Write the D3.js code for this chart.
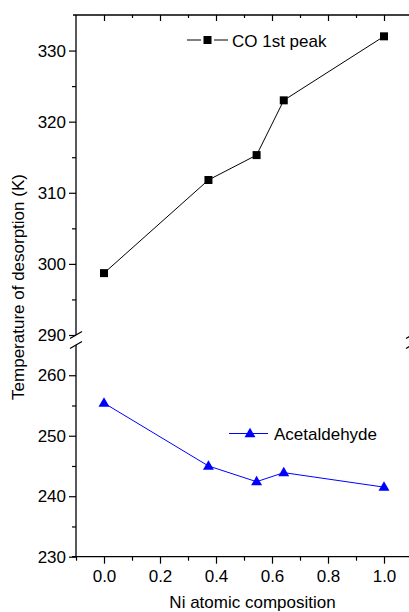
<!DOCTYPE html>
<html><head><meta charset="utf-8">
<script src="https://cdn.jsdelivr.net/npm/d3@7"></script>
<style>
body{margin:0;background:#fff;}
svg{display:block;font-family:"Liberation Sans",Arial,sans-serif;}
</style></head>
<body><svg id="c" width="409" height="612"></svg>
<script>
// data
const niComposition = [0.0, 0.373, 0.545, 0.642, 1.0];
const coPeak = [298.7, 311.8, 315.3, 323.0, 332.0];
const acetaldehyde = [255.4, 245.0, 242.4, 243.9, 241.5];
const xTicks = [0.0, 0.2, 0.4, 0.6, 0.8, 1.0];
const xMinorTicks = [-0.1, 0.1, 0.3, 0.5, 0.7, 0.9, 1.1];
const upperTicks = [290, 300, 310, 320, 330];
const upperMinor = [295, 305, 315, 325];
const lowerTicks = [230, 240, 250, 260];
const lowerMinor = [235, 245, 255];
const seriesNames = ["CO 1st peak", "Acetaldehyde"];

const svg = d3.select("#c");
const L = 76, R = 412, T = 15, B = 556.7;
const upperBottom = 335, lowerTop = 345;

const x = d3.scaleLinear().domain([-0.1, 1.1]).range([L, R]);
const yU = d3.scaleLinear().domain([290, 335]).range([upperBottom, T]);
const yL = d3.scaleLinear().domain([230, 265]).range([B, lowerTop]);

const fs = 17;
function style(g, lbl) {
  g.select(".domain").remove();
  g.selectAll(".tick line").attr("stroke", "#000").attr("stroke-width", 1.2);
  g.selectAll(".tick text").attr("font-size", fs).attr("fill", "#000")
   .attr("font-family", '"Liberation Sans",Arial,sans-serif');
  if (!lbl) g.selectAll(".tick text").remove();
}

// bottom axis
svg.append("g").attr("transform", `translate(0,${B})`)
  .call(d3.axisBottom(x).tickValues(xTicks).tickSize(7).tickPadding(6).tickFormat(d3.format(".1f")))
  .call(g => style(g, true));
svg.append("g").attr("transform", `translate(0,${B})`)
  .call(d3.axisBottom(x).tickValues(xMinorTicks).tickSize(4))
  .call(g => style(g, false));
// top axis (inward ticks)
svg.append("g").attr("transform", `translate(0,${T})`)
  .call(d3.axisBottom(x).tickValues(xTicks).tickSize(6))
  .call(g => style(g, false));
svg.append("g").attr("transform", `translate(0,${T})`)
  .call(d3.axisBottom(x).tickValues(xMinorTicks.slice(1, -1)).tickSize(3))
  .call(g => style(g, false));

// left axes
svg.append("g").attr("transform", `translate(${L},0)`)
  .call(d3.axisLeft(yU).tickValues(upperTicks).tickSize(7).tickPadding(3))
  .call(g => style(g, true));
svg.append("g").attr("transform", `translate(${L},0)`)
  .call(d3.axisLeft(yU).tickValues(upperMinor).tickSize(4))
  .call(g => style(g, false));
svg.append("g").attr("transform", `translate(${L},0)`)
  .call(d3.axisLeft(yL).tickValues(lowerTicks).tickSize(7).tickPadding(3))
  .call(g => style(g, true));
svg.append("g").attr("transform", `translate(${L},0)`)
  .call(d3.axisLeft(yL).tickValues(lowerMinor).tickSize(4))
  .call(g => style(g, false));

// axis lines
const ax = svg.append("g").attr("stroke", "#000").attr("stroke-width", 1.3).attr("fill", "none");
ax.append("line").attr("x1", L - 3).attr("x2", R).attr("y1", T).attr("y2", T);
ax.append("line").attr("x1", L - 4).attr("x2", R).attr("y1", B).attr("y2", B);
[L, R].forEach(xx => {
  ax.append("line").attr("x1", xx).attr("x2", xx).attr("y1", T).attr("y2", upperBottom);
  ax.append("line").attr("x1", xx).attr("x2", xx).attr("y1", lowerTop).attr("y2", B);
  [upperBottom, lowerTop].forEach(yy => {
    ax.append("line").attr("x1", xx - 6).attr("y1", yy + 3.5).attr("x2", xx + 6).attr("y2", yy - 3.5);
  });
});

// lines
const lineU = d3.line().x((d, i) => x(niComposition[i])).y(d => yU(d));
const lineL = d3.line().x((d, i) => x(niComposition[i])).y(d => yL(d));
svg.append("path").datum(coPeak).attr("d", lineU).attr("fill", "none").attr("stroke", "#000").attr("stroke-width", 1);
svg.append("path").datum(acetaldehyde).attr("d", lineL).attr("fill", "none").attr("stroke", "#0000ff").attr("stroke-width", 1);

const sq = d3.symbol().type(d3.symbolSquare).size(64);
const tri = d3.symbol().type(d3.symbolTriangle).size(52);
svg.append("g").selectAll("path").data(coPeak).join("path")
  .attr("d", sq).attr("transform", (d, i) => `translate(${x(niComposition[i])},${yU(d)})`).attr("fill", "#000");
svg.append("g").selectAll("path").data(acetaldehyde).join("path")
  .attr("d", tri).attr("transform", (d, i) => `translate(${x(niComposition[i])},${yL(d) + 0.5})`).attr("fill", "#0000ff");

// legends
const lg1 = svg.append("g").attr("transform", "translate(0,40)");
lg1.append("line").attr("x1", 187).attr("x2", 201).attr("stroke", "#000").attr("stroke-width", 1);
lg1.append("line").attr("x1", 214).attr("x2", 228).attr("stroke", "#000").attr("stroke-width", 1);
lg1.append("path").attr("d", sq).attr("transform", "translate(207.5,0)").attr("fill", "#000");
lg1.append("text").attr("x", 232).attr("y", 6.5).attr("font-size", fs).text(seriesNames[0]);

const lg2 = svg.append("g").attr("transform", "translate(0,433.5)");
lg2.append("line").attr("x1", 229).attr("x2", 268).attr("stroke", "#0000ff").attr("stroke-width", 1);
lg2.append("path").attr("d", tri).attr("transform", "translate(250,0.5)").attr("fill", "#0000ff");
lg2.append("text").attr("x", 274).attr("y", 6.5).attr("font-size", fs).text(seriesNames[1]);

// titles
svg.append("text").attr("x", (L + 409) / 2 + 10).attr("y", 607.5).attr("text-anchor", "middle")
  .attr("font-size", fs).text("Ni atomic composition");
svg.append("text").attr("transform", "translate(24,287) rotate(-90)").attr("text-anchor", "middle")
  .attr("font-size", fs).text("Temperature of desorption (K)");
</script></body></html>
